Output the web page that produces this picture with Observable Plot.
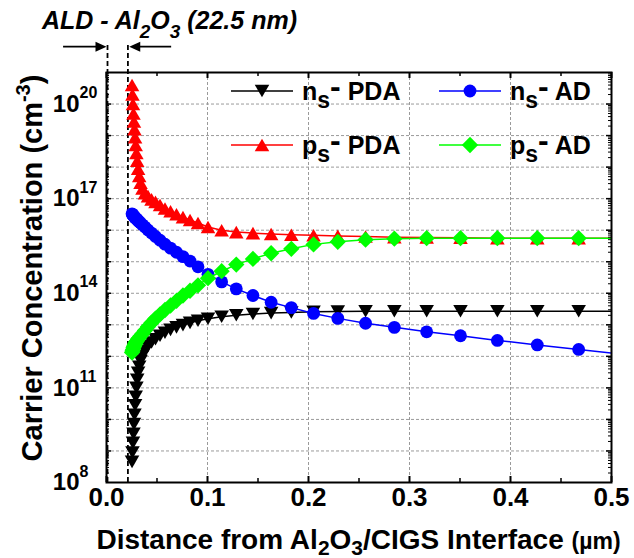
<!DOCTYPE html>
<html><head><meta charset="utf-8">
<script src="https://cdn.jsdelivr.net/npm/d3@7"></script>
<script src="https://cdn.jsdelivr.net/npm/@observablehq/plot@0.6"></script>
<style>body{margin:0;background:#fff;} #chart{width:634px;height:558px;}</style>
</head><body><div id="chart"></div>
<script>
const FONT = '"Liberation Sans", Arial, Helvetica, sans-serif';

// ---- data (distance in µm, concentration in cm^-3) ----
const xMesh = [0.0253, 0.0257, 0.0262, 0.0267, 0.0272, 0.0277, 0.0283, 0.0289, 0.0296, 0.0304,
  0.0313, 0.0324, 0.0337, 0.0356, 0.0381, 0.0411, 0.0446, 0.0485, 0.0530, 0.0579,
  0.0634, 0.0693, 0.0757, 0.0827, 0.0906, 0.1005, 0.1140, 0.1285, 0.1450, 0.1630,
  0.1830, 0.2050, 0.2290, 0.2565, 0.2850, 0.3170, 0.3505, 0.3870, 0.4265, 0.4675, 0.5150];
const nsPDA = [4.5e8, 8.9e8, 1.8e9, 3.5e9, 7.1e9, 1.4e10, 2.8e10, 5.2e10, 1.0e11, 1.8e11,
  3.0e11, 4.7e11, 7.1e11, 1.05e12, 1.5e12, 2.1e12, 2.75e12, 3.5e12, 4.5e12, 5.6e12,
  6.9e12, 8.3e12, 9.8e12, 1.15e13, 1.35e13, 1.55e13, 1.8e13, 2.0e13, 2.2e13, 2.35e13,
  2.45e13, 2.6e13, 2.65e13, 2.7e13, 2.7e13, 2.7e13, 2.7e13, 2.7e13, 2.7e13, 2.7e13, 2.7e13];
const nsAD = [3.3e16, 3.16e16, 3.0e16, 2.9e16, 2.75e16, 2.6e16, 2.5e16, 2.4e16, 2.3e16, 2.15e16,
  2.0e16, 1.86e16, 1.7e16, 1.48e16, 1.26e16, 1.02e16, 8.1e15, 6.3e15, 4.8e15, 3.6e15,
  2.7e15, 2.0e15, 1.45e15, 1.05e15, 6.9e14, 4.0e14, 2.3e14, 1.38e14, 8.5e13, 5.2e13,
  3.5e13, 2.3e13, 1.6e13, 1.12e13, 8.3e12, 6.0e12, 4.5e12, 3.2e12, 2.3e12, 1.66e12, 1.12e12];
const psPDA = [4.0e20, 2.0e20, 1.0e20, 5.0e19, 2.8e19, 1.6e19, 8.9e18, 5.0e18, 2.8e18, 1.6e18,
  8.9e17, 5.2e17, 3.2e17, 2.1e17, 1.5e17, 1.2e17, 9.5e16, 7.9e16, 6.3e16, 4.9e16,
  4.0e16, 3.2e16, 2.6e16, 2.1e16, 1.7e16, 1.26e16, 1.0e16, 8.7e15, 8.1e15, 7.6e15,
  7.2e15, 6.9e15, 6.6e15, 6.3e15, 6.0e15, 5.9e15, 5.8e15, 5.6e15, 5.6e15, 5.6e15, 5.6e15];
const psAD = [1.32e12, 1.48e12, 1.66e12, 1.86e12, 2.04e12, 2.24e12, 2.45e12, 2.7e12, 2.95e12, 3.2e12,
  3.55e12, 3.9e12, 4.4e12, 5.2e12, 6.6e12, 8.7e12, 1.17e13, 1.58e13, 2.14e13, 2.95e13,
  4.1e13, 5.75e13, 8.5e13, 1.2e14, 1.78e14, 3.0e14, 5.0e14, 8.1e14, 1.23e15, 1.86e15,
  2.57e15, 3.55e15, 4.27e15, 5.0e15, 5.4e15, 5.6e15, 5.6e15, 5.6e15, 5.6e15, 5.6e15, 5.6e15];

// ---- ticks / labels ----
const xMajor = [0, 0.1, 0.2, 0.3, 0.4, 0.5];
const xMinor = [0.05, 0.15, 0.25, 0.35, 0.45];
const xGrid = [0.1, 0.2, 0.3, 0.4];
const yLabelVals = [1e8, 1e11, 1e14, 1e17, 1e20];
const yLabelExp = ["8", "11", "14", "17", "20"];
const yDecades = [1e9, 1e10, 1e11, 1e12, 1e13, 1e14, 1e15, 1e16, 1e17, 1e18, 1e19, 1e20];
const yMinor = [];
for (let k = 8; k <= 20; k++) for (let m = 2; m <= 9; m++) yMinor.push(m * 10 ** k);
const interfaceX = [0.001, 0.0212];   // Al2O3 layer edges (22.5 nm)
const arrowY = 10 ** 21.82;
const arrows = [{x1: -0.0425, tip: 0.0, dir: 1}, {x1: 0.0645, tip: 0.0225, dir: -1}];

// ---- symbols ----
const triDown = {draw(ctx, size) { const s = Math.sqrt(size / (Math.sqrt(3) / 4)), h = s * Math.sqrt(3) / 2;
  ctx.moveTo(-s / 2, -h / 2); ctx.lineTo(s / 2, -h / 2); ctx.lineTo(0, h / 2); ctx.closePath(); }};
const triUp = {draw(ctx, size) { const s = Math.sqrt(size / (Math.sqrt(3) / 4)), h = s * Math.sqrt(3) / 2;
  ctx.moveTo(-s / 2, h / 2); ctx.lineTo(s / 2, h / 2); ctx.lineTo(0, -h / 2); ctx.closePath(); }};
const diamond = {draw(ctx, size) { const d = Math.sqrt(size / 2);
  ctx.moveTo(0, -d); ctx.lineTo(d, 0); ctx.lineTo(0, d); ctx.lineTo(-d, 0); ctx.closePath(); }};
const headRight = {draw(ctx) { ctx.moveTo(0, 0); ctx.lineTo(-11, -5); ctx.lineTo(-11, 5); ctx.closePath(); }};
const headLeft = {draw(ctx) { ctx.moveTo(0, 0); ctx.lineTo(11, -5); ctx.lineTo(11, 5); ctx.closePath(); }};

const series = [
  {vals: nsPDA, color: "#000000", symbol: triDown, r: 5.4},
  {vals: psPDA, color: "#ff0000", symbol: triUp, r: 5.4},
  {vals: nsAD, color: "#0000ff", symbol: "circle", r: 6.4},
  {vals: psAD, color: "#00ff00", symbol: diamond, r: 6.5}
];

const W = 634, H = 558, mL = 106, mR = 23, mT = 72, mB = 76;
const pW = W - mL - mR, pH = H - mT - mB;
const grid = {stroke: "#9a9a9a", strokeWidth: 1, strokeDasharray: "3,2"};

const marks = [
  Plot.ruleX(xGrid, grid),
  Plot.ruleY(yDecades, grid),
  Plot.ruleX(interfaceX, {y1: 1e8, y2: 10 ** 21.95, stroke: "black", strokeWidth: 1.8, strokeDasharray: "5,3", clip: false}),
  Plot.ruleY(arrows, {y: () => arrowY, x1: "x1", x2: d => d.tip - d.dir * 0.009, stroke: "black", strokeWidth: 1.6, clip: false}),
  Plot.dot(arrows.filter(d => d.dir > 0), {x: "tip", y: () => arrowY, symbol: headRight, fill: "black", stroke: "none", clip: false}),
  Plot.dot(arrows.filter(d => d.dir < 0), {x: "tip", y: () => arrowY, symbol: headLeft, fill: "black", stroke: "none", clip: false}),
];
for (const s of series) {
  const rows = xMesh.map((x, i) => ({x, y: s.vals[i]}));
  marks.push(Plot.line(rows, {x: "x", y: "y", stroke: s.color, strokeWidth: 1.5, clip: true}));
  marks.push(Plot.dot(rows, {x: "x", y: "y", symbol: s.symbol, r: s.r, fill: s.color, stroke: "none", clip: true}));
}
marks.push(
  Plot.frame({stroke: "black", strokeWidth: 2}),
  Plot.ruleX(xMajor, {insetTop: pH - 6, stroke: "black", strokeWidth: 2}),
  Plot.ruleX(xMajor, {insetBottom: pH - 6, stroke: "black", strokeWidth: 2}),
  Plot.ruleX(xMinor, {insetTop: pH - 4, stroke: "black", strokeWidth: 1.5}),
  Plot.ruleX(xMinor, {insetBottom: pH - 4, stroke: "black", strokeWidth: 1.5}),
  Plot.ruleY(yDecades, {insetRight: pW - 5, stroke: "black", strokeWidth: 1.5}),
  Plot.ruleY(yDecades, {insetLeft: pW - 5, stroke: "black", strokeWidth: 1.5}),
  Plot.ruleY(yMinor, {insetRight: pW - 3, stroke: "black", strokeWidth: 1}),
  Plot.ruleY(yMinor, {insetLeft: pW - 3, stroke: "black", strokeWidth: 1}),
  Plot.text(xMajor, {x: d => d, frameAnchor: "bottom", dy: 23, text: d => d.toFixed(1), fontSize: 26, fontWeight: "bold", fill: "black"}),
  Plot.text(yLabelVals, {y: d => d, frameAnchor: "left", dx: -27, textAnchor: "end", text: () => "10", fontSize: 24, fontWeight: "bold", fill: "black"}),
  Plot.text(yLabelVals, {y: d => d, frameAnchor: "left", dx: -27, dy: -11, textAnchor: "start", text: (d, i) => yLabelExp[i], fontSize: 16, fontWeight: "bold", fill: "black"})
);

const chart = Plot.plot({
  width: W, height: H,
  marginLeft: mL, marginRight: mR, marginTop: mT, marginBottom: mB,
  x: {domain: [0, 0.5], axis: null},
  y: {type: "log", domain: [1e8, 1e21], axis: null},
  style: {fontFamily: FONT, background: "white", overflow: "visible"},
  marks
});
document.getElementById("chart").appendChild(chart);

// ---- annotations: title, axis titles, legend ----
const svg = d3.select(chart);
const g = svg.append("g").attr("font-family", FONT).attr("font-weight", "bold").attr("fill", "black").attr("text-anchor", "start");

const t = g.append("text").attr("x", 42).attr("y", 29).attr("font-size", 25).attr("font-style", "italic");
t.append("tspan").text("ALD - Al");
t.append("tspan").attr("dy", 9).attr("font-size", 19).text("2");
t.append("tspan").attr("dy", -9).text("O");
t.append("tspan").attr("dy", 9).attr("font-size", 19).text("3");
t.append("tspan").attr("dy", -9).text(" (22.5 nm)");

const xl = g.append("text").attr("x", mL + pW / 2).attr("y", 549).attr("text-anchor", "middle").attr("font-size", 28);
xl.append("tspan").text("Distance from Al");
xl.append("tspan").attr("dy", 6).attr("font-size", 21).text("2");
xl.append("tspan").attr("dy", -6).text("O");
xl.append("tspan").attr("dy", 6).attr("font-size", 21).text("3");
xl.append("tspan").attr("dy", -6).text("/CIGS Interface ");
xl.append("tspan").attr("font-size", 23).text("(µm)");

const yl = g.append("text").attr("transform", `translate(42,${mT + pH / 2 - 9}) rotate(-90)`).attr("text-anchor", "middle").attr("font-size", 29);
yl.append("tspan").text("Carrier Concentration (cm");
yl.append("tspan").attr("dy", -12).attr("font-size", 20).text("-3");
yl.append("tspan").attr("dy", 12).text(")");

const legend = [
  {x: 231, y: 91, color: "#000000", sym: triDown, size: Math.PI * 5.4 * 5.4, a: "n", b: "PDA"},
  {x: 439, y: 91, color: "#0000ff", sym: d3.symbolCircle, size: Math.PI * 6.4 * 6.4, a: "n", b: "AD"},
  {x: 231, y: 145, color: "#ff0000", sym: triUp, size: Math.PI * 5.4 * 5.4, a: "p", b: "PDA"},
  {x: 439, y: 145, color: "#00ff00", sym: diamond, size: Math.PI * 6.5 * 6.5, a: "p", b: "AD"}
];
for (const L of legend) {
  g.append("line").attr("x1", L.x).attr("x2", L.x + 62).attr("y1", L.y).attr("y2", L.y)
    .attr("stroke", L.color).attr("stroke-width", 1.5);
  g.append("path").attr("d", d3.symbol(L.sym, L.size)()).attr("transform", `translate(${L.x + 31},${L.y})`).attr("fill", L.color);
  const tx = g.append("text").attr("x", L.x + 71).attr("y", L.y + 9).attr("font-size", 25);
  tx.append("tspan").text(L.a);
  tx.append("tspan").attr("dy", 8).attr("font-size", 23).text("s");
  tx.append("tspan").attr("dy", -11).attr("font-size", 32).text("-");
  tx.append("tspan").attr("dy", 3).attr("font-size", 25).text(" " + L.b);
}
</script>
</body></html>
